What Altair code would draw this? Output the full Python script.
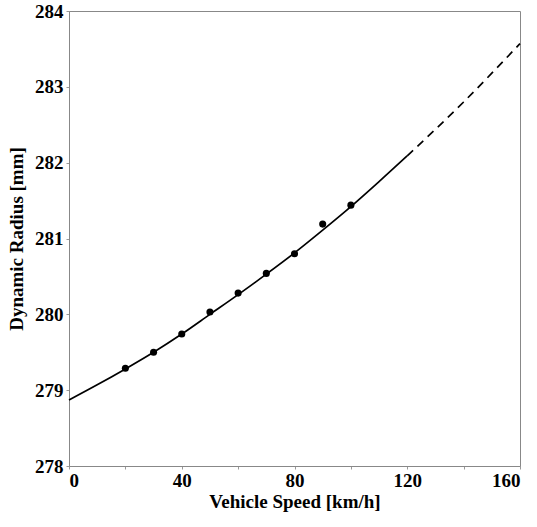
import altair as alt
import pandas as pd

# measured points
speed_pts = [20, 30, 40, 50, 60, 70, 80, 90, 100]
radius_pts = [279.29, 279.50, 279.74, 280.03, 280.28, 280.54, 280.80, 281.19, 281.44]

# fitted curve
curve_speed = [0, 10, 20, 30, 40, 50, 60, 70, 80, 90, 100, 110, 120, 130, 140, 150, 160]
curve_radius = [278.87, 279.07, 279.28, 279.50, 279.74, 280.00, 280.26, 280.53, 280.81,
                281.11, 281.42, 281.75, 282.09, 282.44, 282.80, 283.18, 283.57]
solid_limit = 120

# tick positions (labels only on major ones)
x_ticks = [0, 20, 40, 60, 80, 100, 120, 140, 160]
y_ticks = [278, 278.5, 279, 279.5, 280, 280.5, 281, 281.5, 282, 282.5, 283, 283.5, 284]

pts = pd.DataFrame({"speed": speed_pts, "radius": radius_pts})
curve = pd.DataFrame({"speed": curve_speed, "radius": curve_radius})
solid = curve[curve["speed"] <= solid_limit]
dashed = curve[curve["speed"] >= solid_limit]

FONT = "Liberation Serif"

xs = alt.Scale(domain=[0, 160], nice=False)
ys = alt.Scale(domain=[278, 284], nice=False, zero=False)

xax = alt.Axis(values=x_ticks, title="Vehicle Speed [km/h]", grid=False,
               labelExpr="datum.value % 40 == 0 ? datum.label : ''",
               labelPadding=2, titlePadding=2)
yax = alt.Axis(values=y_ticks, title="Dynamic Radius [mm]", grid=False,
               labelExpr="datum.value % 1 == 0 ? format(datum.value, 'd') : ''",
               labelPadding=3, titlePadding=8)

line_solid = alt.Chart(solid).mark_line(color="black", strokeWidth=1.7, interpolate="monotone").encode(
    x=alt.X("speed:Q", scale=xs, axis=xax),
    y=alt.Y("radius:Q", scale=ys, axis=yax),
)
line_dashed = alt.Chart(dashed).mark_line(color="black", strokeWidth=1.7, strokeDash=[8, 6],
                                          interpolate="monotone").encode(
    x=alt.X("speed:Q", scale=xs),
    y=alt.Y("radius:Q", scale=ys),
)
points = alt.Chart(pts).mark_circle(color="black", size=50, opacity=1).encode(
    x=alt.X("speed:Q", scale=xs),
    y=alt.Y("radius:Q", scale=ys),
)

chart = (line_solid + line_dashed + points).properties(
    width=451, height=455,
    autosize=alt.AutoSizeParams(type="none"),
    padding={"left": 69, "top": 11, "right": 17, "bottom": 61},
    background="white",
).configure_view(stroke="#888", strokeWidth=1).configure_axis(
    labelFont=FONT, labelFontWeight="bold", labelFontSize=19, labelColor="black",
    titleFont=FONT, titleFontWeight="bold", titleFontSize=19, titleColor="black",
    tickSize=3, tickColor="#999", domainColor="#888",
)

chart.save("out.html", embed_options={"renderer": "svg", "actions": False})
